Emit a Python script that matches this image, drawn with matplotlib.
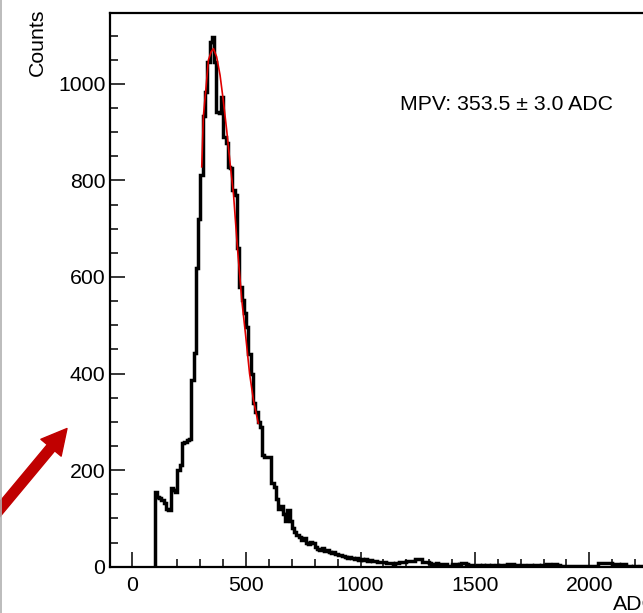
import matplotlib
matplotlib.use("Agg")
import matplotlib.pyplot as plt
import numpy as np
from matplotlib.lines import Line2D
from matplotlib.patches import FancyArrowPatch
from matplotlib.ticker import MultipleLocator

plt.rcParams.update({
    "font.family": ["Liberation Sans", "DejaVu Sans"],
    "font.size": 15.3,
})

# --------------------------------------------------
# histogram: 10 ADC bins starting at 100 ADC
# --------------------------------------------------
BIN_START = 100
BIN_WIDTH = 10
counts = [
    155, 145, 142, 138, 132, 119, 118, 163, 159, 155, 200, 210, 256, 259, 262, 265, 387, 442, 618, 721,
    811, 933, 983, 1045, 1087, 1096, 1045, 942, 939, 973, 890, 877, 828, 825, 780, 770, 659, 580, 552, 525,
    497, 440, 400, 339, 320, 300, 289, 232, 228, 228, 228, 173, 165, 140, 120, 125, 110, 95, 117, 95,
    80, 72, 66, 62, 55, 60, 50, 47, 52, 50, 40, 37, 35, 38, 33, 34, 30, 28, 30, 27,
    24, 25, 22, 20, 18, 20, 17, 15, 18, 14, 16, 13, 15, 12, 14, 11, 12, 10, 9, 10,
    10, 8, 7, 7, 6, 7, 8, 10, 10, 9, 11, 11, 12, 11, 16, 16, 15, 10, 10, 9,
    7, 6, 6, 7, 6, 5, 6, 6, 1, 2, 5, 5, 4, 5, 7, 7, 6, 2, 3, 2,
    2, 3, 2, 3, 2, 3, 2, 3, 2, 3, 2, 3, 2, 3, 6, 6, 5, 3, 3, 2,
    3, 3, 2, 3, 3, 2, 3, 3, 2, 3, 3, 5, 5, 4, 5, 5, 4, 2, 2, 1,
    2, 2, 1, 2, 2, 1, 2, 1, 1, 2, 1, 1, 2, 1, 8, 7, 8, 8, 7, 8,
    6, 5, 5, 4, 5, 5, 1, 1, 0, 1, 1, 0, 1, 1, 0, 1, 0, 1, 1, 0,
]

# fit curve
fit_adc = [306, 313, 325, 335, 347, 357, 371, 386, 400, 415, 430, 445, 462, 481, 498, 515, 532, 553]
fit_cnt = [828, 932, 994, 1049, 1066, 1073, 1056, 1018, 966, 904, 835, 770, 660, 552, 478, 400, 345, 297]

mpv_text = "MPV: 353.5 ± 3.0 ADC"

# --------------------------------------------------
# figure
# --------------------------------------------------
W, H = 643, 613
fig = plt.figure(figsize=(W / 100, H / 100), dpi=100)

x_left, x_right = -95, 2300
px_per_adc = 0.2288
ax_w = (x_right - x_left) * px_per_adc
ax = fig.add_axes([110 / W, 46.3 / H, ax_w / W, 553.4 / H])

edges = BIN_START + BIN_WIDTH * np.arange(len(counts) + 1)
ax.stairs(counts, edges, color="black", linewidth=2.5, baseline=0, zorder=2)
ax.plot(fit_adc, fit_cnt, color="#e00000", linewidth=1.2, zorder=3)

ax.set_xlim(x_left, x_right)
ax.set_ylim(0, 1146)

ax.xaxis.set_major_locator(MultipleLocator(500))
ax.xaxis.set_minor_locator(MultipleLocator(100))
ax.yaxis.set_major_locator(MultipleLocator(200))
ax.yaxis.set_minor_locator(MultipleLocator(50))
ax.tick_params(which="both", direction="in", top=False, right=False, width=1.1)
ax.tick_params(which="major", length=11)
ax.tick_params(which="minor", length=5.5)
ax.tick_params(axis="x", pad=6.5)
ax.tick_params(axis="y", pad=3.4)
for s in ax.spines.values():
    s.set_linewidth(1.6)
ax.spines["right"].set_visible(False)

ax.text(1.0, -0.052, "ADC", transform=ax.transAxes, ha="right", va="top")
fig.text(37 / W, 1 - 8 / H, "Counts", rotation=90, ha="center", va="top")
fig.text(400 / W, 1 - 104 / H, mpv_text, ha="left", va="center")

# slide decorations: red arrow and gray border
arrow = FancyArrowPatch((-10 / 100, (H - 521) / 100), (67 / 100, (H - 428.5) / 100),
                        transform=fig.dpi_scale_trans,
                        arrowstyle="simple,head_length=18,head_width=19,tail_width=7",
                        mutation_scale=1, color="#c00000", shrinkA=0, shrinkB=0)
fig.add_artist(arrow)
fig.add_artist(Line2D([0.8 / W, 0.8 / W], [0, 1], color="#b0b0b0", linewidth=1.2))

fig.savefig("out.png", dpi=100)
